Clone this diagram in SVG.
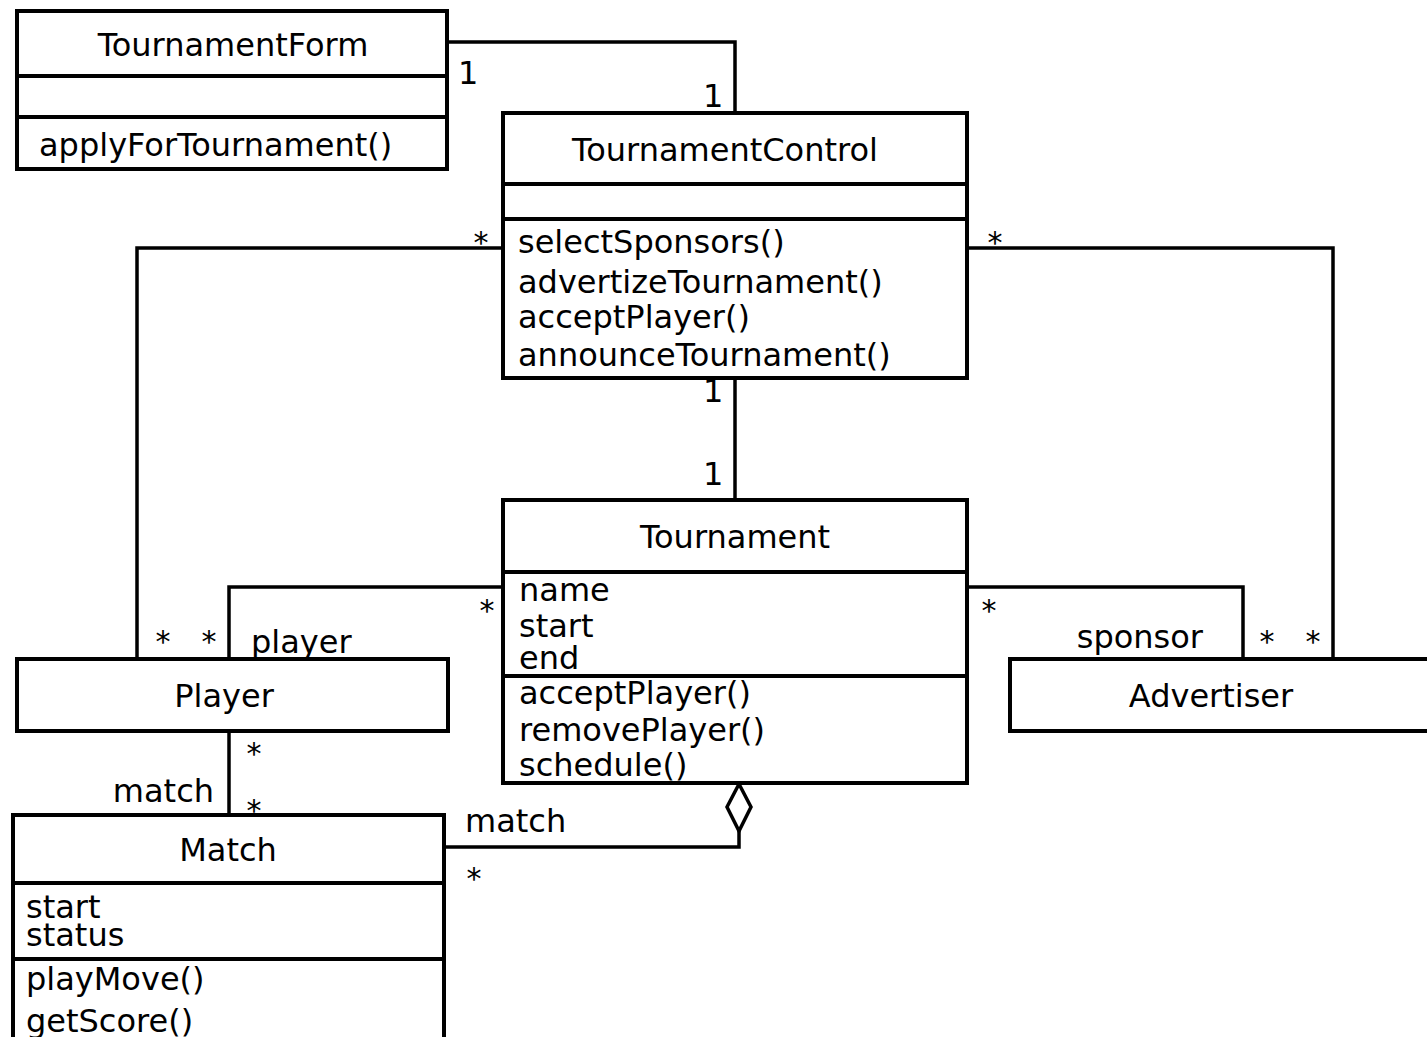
<svg xmlns="http://www.w3.org/2000/svg" width="1427" height="1037" viewBox="0 0 1427 1037">
<style>
text{font-family:"DejaVu Sans",sans-serif;font-size:32px;fill:#000}
.c{text-anchor:middle}
.e{text-anchor:end}
.s{font-size:30px}
.box{fill:#fff;stroke:#000;stroke-width:4}
.div{stroke:#000;stroke-width:4}
.conn{fill:none;stroke:#000;stroke-width:3.5}
</style>
<rect width="1427" height="1037" fill="#fff"/>
<g id="connectors">
<polyline class="conn" points="445,42 735,42 735,113"/>
<polyline class="conn" points="503,248 137,248 137,659"/>
<polyline class="conn" points="967,248 1333,248 1333,659"/>
<line class="conn" x1="735" y1="378" x2="735" y2="500"/>
<polyline class="conn" points="503,587 229,587 229,659"/>
<polyline class="conn" points="967,587 1243,587 1243,659"/>
<line class="conn" x1="229" y1="731" x2="229" y2="815"/>
<polyline class="conn" points="443,847 739,847 739,831"/>
<polygon points="739,784 727,807 739,831 751,807" fill="#fff" stroke="#000" stroke-width="3.5"/>
<text x="458" y="84">1</text>
<text x="703" y="107">1</text>
<text x="703" y="402">1</text>
<text x="703" y="485">1</text>
<text x="481" y="253" class="c s">*</text>
<text x="995" y="253" class="c s">*</text>
<text x="163" y="652" class="c s">*</text>
<text x="209" y="652" class="c s">*</text>
<text x="251" y="653">player</text>
<text x="487" y="621" class="c s">*</text>
<text x="989" y="621" class="c s">*</text>
<text x="1203" y="648" class="e">sponsor</text>
<text x="1267" y="652" class="c s">*</text>
<text x="1313" y="652" class="c s">*</text>
<text x="254" y="764" class="c s">*</text>
<text x="214" y="802" class="e">match</text>
<text x="254" y="821" class="c s">*</text>
<text x="465" y="832">match</text>
<text x="474" y="889" class="c s">*</text>
</g>
<g id="TournamentForm">
<rect class="box" x="17" y="11" width="430" height="158"/>
<line class="div" x1="17" y1="76" x2="447" y2="76"/>
<line class="div" x1="17" y1="117" x2="447" y2="117"/>
<text x="233" y="56" class="c">TournamentForm</text>
<text x="39" y="156">applyForTournament()</text>
</g>
<g id="TournamentControl">
<rect class="box" x="503" y="113" width="464" height="265"/>
<line class="div" x1="503" y1="184" x2="967" y2="184"/>
<line class="div" x1="503" y1="219" x2="967" y2="219"/>
<text x="725" y="161" class="c">TournamentControl</text>
<text x="518" y="253">selectSponsors()</text>
<text x="518" y="293">advertizeTournament()</text>
<text x="518" y="328">acceptPlayer()</text>
<text x="518" y="366">announceTournament()</text>
</g>
<g id="Tournament">
<rect class="box" x="503" y="500" width="464" height="283"/>
<line class="div" x1="503" y1="572" x2="967" y2="572"/>
<line class="div" x1="503" y1="676" x2="967" y2="676"/>
<text x="735" y="548" class="c">Tournament</text>
<text x="519" y="601">name</text>
<text x="519" y="637">start</text>
<text x="519" y="669">end</text>
<text x="519" y="704">acceptPlayer()</text>
<text x="519" y="741">removePlayer()</text>
<text x="519" y="776">schedule()</text>
</g>
<g id="Player">
<rect class="box" x="17" y="659" width="431" height="72"/>
<text x="224" y="707" class="c">Player</text>
</g>
<g id="Advertiser">
<rect class="box" x="1010" y="659" width="440" height="72"/>
<text x="1211" y="707" class="c">Advertiser</text>
</g>
<g id="Match">
<rect class="box" x="13" y="815" width="431" height="240"/>
<line class="div" x1="13" y1="883" x2="444" y2="883"/>
<line class="div" x1="13" y1="959" x2="444" y2="959"/>
<text x="228" y="861" class="c">Match</text>
<text x="26" y="918">start</text>
<text x="26" y="946">status</text>
<text x="26" y="990">playMove()</text>
<text x="26" y="1032">getScore()</text>
</g>
</svg>
